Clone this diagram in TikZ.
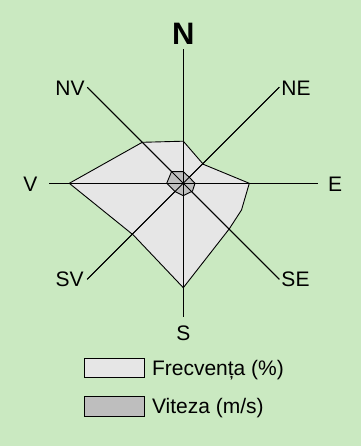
\documentclass[tikz,border=0pt]{standalone}
\usepackage{fontspec}
\setmainfont{Liberation Sans}
\definecolor{bgcol}{RGB}{202,233,193}
\definecolor{freqfill}{RGB}{230,230,230}
\definecolor{vitfill}{RGB}{190,190,190}
\begin{document}
\begin{tikzpicture}[x=1pt,y=-1pt,
  axisline/.style={line width=0.9pt,black},
  polyline/.style={line width=0.9pt,black,line join=round},
  dirlabel/.style={inner sep=0pt,anchor=base,font=\fontsize{21}{24}\selectfont},
  legtext/.style={inner sep=0pt,anchor=base west,font=\fontsize{21}{24}\selectfont},
  legbox/.style={draw=black,line width=0.9pt}]
\fill[bgcol] (0,0) rectangle (361,446);
\useasboundingbox (0,0) rectangle (361,446);
\coordinate (O) at (183.3,183.3);
% axis ends
\coordinate (eN) at (183.3,49.3);
\coordinate (eS) at (183.3,316.7);
\coordinate (eE) at (318.3,183.3);
\coordinate (eV) at (49.3,183.3);
\coordinate (eNE) at (279.3,87.3);
\coordinate (eNV) at (87.3,87.3);
\coordinate (eSE) at (279.3,279.3);
\coordinate (eSV) at (87.3,279.3);
% frequency polygon
\filldraw[polyline,fill=freqfill]
  (183.3,141.2) -- (203.3,164.3) -- (249.3,183.3) -- (241.5,210) -- (229.3,228.8)
  -- (183.3,287.7) -- (133.3,235) -- (69.3,183.3) -- (142.3,142.3) -- cycle;
% axes
\foreach \e in {eN,eS,eE,eV,eNE,eNV,eSE,eSV} \draw[axisline] (O) -- (\e);
% velocity polygon
\filldraw[polyline,fill=vitfill]
  (183.3,171.7) -- (189.3,177.3) -- (195,183.3) -- (192.5,191) -- (183.3,195.7)
  -- (175,191.5) -- (166.7,183.3) -- (171.5,171.7) -- cycle;
\foreach \e in {eN,eS,eE,eV,eNE,eNV,eSE,eSV} \draw[axisline] (O) -- (\e);
% labels
\node[inner sep=0pt,anchor=base,font=\fontsize{31}{34}\selectfont\bfseries] (lN) at (183.3,45) {N};
\node[dirlabel] (lNV) at (70,96) {NV};
\node[dirlabel] (lNE) at (296,96) {NE};
\node[dirlabel] (lV) at (30.5,191.5) {V};
\node[dirlabel] (lE) at (335,191.5) {E};
\node[dirlabel] (lSV) at (69.7,286.5) {SV};
\node[dirlabel] (lSE) at (295.5,286.5) {SE};
\node[dirlabel] (lS) at (183.3,340) {S};
% legend
\draw[legbox,fill=freqfill] (84,358.3) rectangle (144,377.3);
\draw[legbox,fill=vitfill] (84,396.7) rectangle (144,416);
\node[legtext] (tF) at (151.8,375) {Frecvența (\%)};
\node[legtext] (tV) at (151.8,413.3) {Viteza (m/s)};
\end{tikzpicture}
\end{document}
